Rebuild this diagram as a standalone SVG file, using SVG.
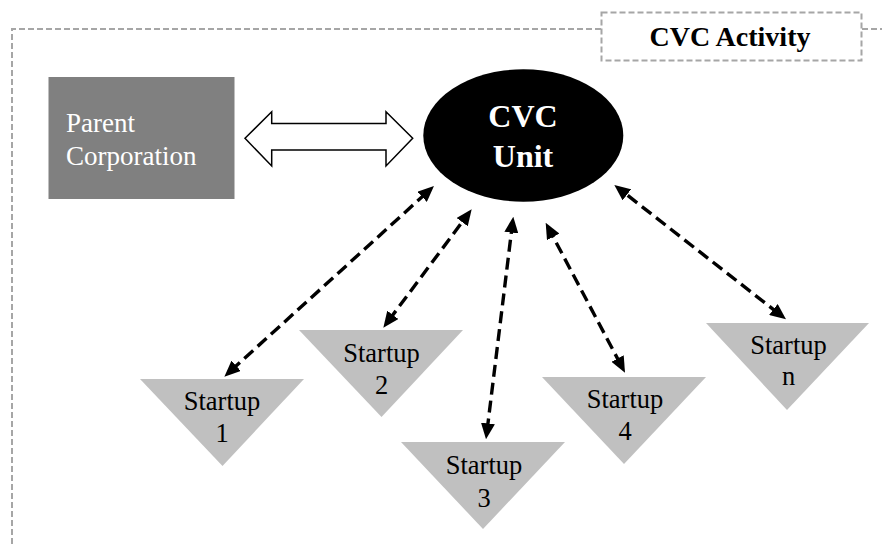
<svg xmlns="http://www.w3.org/2000/svg" width="882" height="544" viewBox="0 0 882 544">
<style>
.frame{fill:none;stroke:#a6a6a6;stroke-width:2;stroke-dasharray:6,3}
.tri{fill:#c0c0c0}
.st{font-family:"Liberation Serif","Times New Roman",serif;font-size:26.5px;fill:#000;text-anchor:middle}
.conn{fill:none;stroke:#000;stroke-width:3.4;stroke-dasharray:12,6;marker-start:url(#ah);marker-end:url(#ah)}
</style>
<defs>
<marker id="ah" markerUnits="userSpaceOnUse" markerWidth="16" markerHeight="14" refX="7" refY="7" orient="auto-start-reverse">
<path d="M0,0 L16,7 L0,14 z" fill="#000"/>
</marker>
</defs>
<rect width="882" height="544" fill="#fff"/>
<g id="frame">
<path class="frame" d="M12,544 V29 H601 M862,29 H882"/>
<rect class="frame" x="601.5" y="12.5" width="260" height="48" fill="#fff"/>
<text x="730" y="46" font-family="'Liberation Serif','Times New Roman',serif" font-size="28" font-weight="bold" text-anchor="middle" fill="#000">CVC Activity</text>
</g>
<g id="parent">
<rect x="48.5" y="77" width="186" height="122" fill="#808080"/>
<text font-family="'Liberation Serif','Times New Roman',serif" font-size="27" fill="#fff"><tspan x="66" y="132">Parent</tspan><tspan x="66" y="165">Corporation</tspan></text>
</g>
<g id="cvc-unit">
<ellipse cx="523.3" cy="135.5" rx="100" ry="66.2" fill="#000"/>
<text font-family="'Liberation Serif','Times New Roman',serif" font-size="32" font-weight="bold" fill="#fff" text-anchor="middle"><tspan x="523" y="127">CVC</tspan><tspan x="523" y="167">Unit</tspan></text>
</g>
<g id="startup1">
<polygon class="tri" points="140,379 304,379 222.5,466"/>
<text class="st"><tspan x="222" y="410">Startup</tspan><tspan x="222" y="442">1</tspan></text>
</g>
<g id="startup2">
<polygon class="tri" points="299,330 463,330 381.5,417"/>
<text class="st"><tspan x="381.5" y="362">Startup</tspan><tspan x="381.5" y="394">2</tspan></text>
</g>
<g id="startup3">
<polygon class="tri" points="401,442 565,442 483,529"/>
<text class="st"><tspan x="484" y="474">Startup</tspan><tspan x="484" y="506.5">3</tspan></text>
</g>
<g id="startup4">
<polygon class="tri" points="542,377 706,377 624,464"/>
<text class="st"><tspan x="625" y="408">Startup</tspan><tspan x="625" y="440">4</tspan></text>
</g>
<g id="startupn">
<polygon class="tri" points="706,323 869,323 787,410"/>
<text class="st"><tspan x="788.5" y="354">Startup</tspan><tspan x="788.5" y="385">n</tspan></text>
</g>
<g id="connectors">
<path d="M245,138.3 L271.7,111.7 L271.7,123.5 L386,123.5 L386,111.7 L412.7,138.3 L386,166 L386,150 L271.7,150 L271.7,166 Z" fill="#fff" stroke="#000" stroke-width="1.5" stroke-linejoin="miter"/>
<line class="conn" x1="231.0" y1="370.6" x2="427.3" y2="192.1"/>
<line class="conn" x1="388.7" y1="320.5" x2="466.3" y2="216.5"/>
<line class="conn" x1="487.1" y1="430.4" x2="512.2" y2="225.6"/>
<line class="conn" x1="620.8" y1="364.7" x2="549.9" y2="230.7"/>
<line class="conn" x1="778.9" y1="313.8" x2="621.4" y2="190.5"/>
</g>
</svg>
